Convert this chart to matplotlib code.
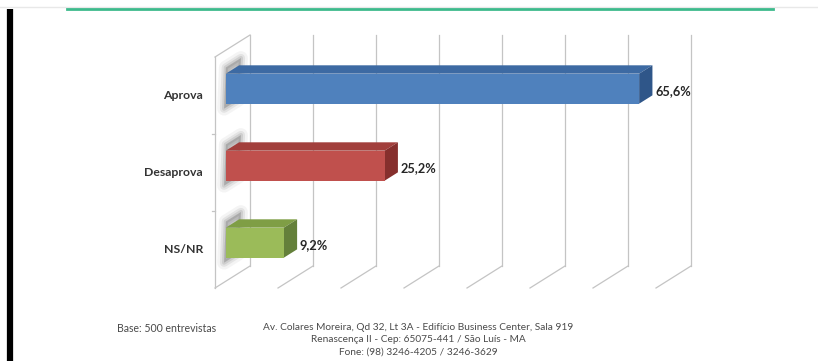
import matplotlib
matplotlib.use("Agg")
import matplotlib.pyplot as plt
from matplotlib.patches import Polygon
from matplotlib.lines import Line2D
from matplotlib.transforms import IdentityTransform

# survey results
categorias = ["Aprova", "Desaprova", "NS/NR"]
valores = [65.6, 25.2, 9.2]
rotulos = ["65,6%", "25,2%", "9,2%"]
cores_frente = ["#4f81bd", "#c0504d", "#9bbb59"]
cores_topo = ["#3d6aa3", "#a23f3c", "#7f9e45"]
cores_lado = ["#2f5689", "#862f2d", "#64803a"]
grade = [0, 10, 20, 30, 40, 50, 60, 70]

rodape_base = "Base: 500 entrevistas"
endereco = ["Av. Colares Moreira, Qd 32, Lt 3A - Edifício Business Center, Sala 919",
            "Renascença II - Cep: 65075-441 / São Luís - MA",
            "Fone: (98) 3246-4205 / 3246-3629"]

plt.rcParams["font.family"] = ["Lato", "DejaVu Sans"]

W, H = 818, 361
fig = plt.figure(figsize=(W / 100, H / 100), dpi=100)
fig.patch.set_facecolor("white")

# front plane of the 3d box
ax = fig.add_axes([215 / W, 1 - 288 / H, 441 / W, 231 / H])
ax.set_xlim(0, 70)
ax.set_ylim(2.5, -0.5)
ax.axis("off")

DX, DY = 35, 22          # depth of the box in pixels
D1, D2 = 0.31, 0.69      # bar depth range
ALT = 0.39               # bar height (category units)

def proj(v, c, d):
    x, y = ax.transData.transform((v, c))
    return (x + DX * d, y + DY * d)

def poly(pts, z=5, **kw):
    p = Polygon(pts, closed=True, transform=IdentityTransform(), clip_on=False,
                zorder=z, **kw)
    fig.add_artist(p)

def linha(p0, p1, z=1, **kw):
    fig.add_artist(Line2D([p0[0], p1[0]], [p0[1], p1[1]],
                          transform=IdentityTransform(), zorder=z, **kw))

cinza = "#c4c4c4"
# back wall gridlines and floor
for g in grade:
    linha(proj(g, -0.5, 1), proj(g, 2.5, 1), color=cinza, lw=0.9)
    linha(proj(g, 2.5, 1), proj(g, 2.5, 0), color=cinza, lw=0.9)
# left wall edges
linha(proj(0, -0.5, 0), proj(0, 2.5, 0), color=cinza, lw=0.9)
linha(proj(0, -0.5, 0), proj(0, -0.5, 1), color=cinza, lw=0.9)
for c in [0.5, 1.5]:
    p = proj(0, c, 0)
    linha((p[0] - 3, p[1]), p, color=cinza, lw=0.9)

# bars
for i, (v, cf, ct, cl) in enumerate(zip(valores, cores_frente, cores_topo, cores_lado)):
    top, bot = i - ALT / 2, i + ALT / 2
    # soft shadow at the left end of the bar
    sombra = [proj(0, top - 0.08, D2 + 0.05), proj(0, top - 0.08, D1),
              proj(0, bot + 0.05, D1 - 0.05), proj(0, bot + 0.05, D2)]
    for lw, a in [(10, 0.06), (6, 0.1), (3, 0.14)]:
        poly(sombra, z=3, facecolor="#505050", alpha=a, edgecolor="#505050", lw=lw,
             joinstyle="round")
    poly([proj(0, top, D1), proj(v, top, D1), proj(v, top, D2), proj(0, top, D2)],
         facecolor=ct, edgecolor="none")
    poly([proj(v, top, D1), proj(v, bot, D1), proj(v, bot, D2), proj(v, top, D2)],
         facecolor=cl, edgecolor="none")
    poly([proj(0, top, D1), proj(v, top, D1), proj(v, bot, D1), proj(0, bot, D1)],
         facecolor=cf, edgecolor="none")

    # value label
    lx, ly = proj(v, i, D1)
    fig.text((lx + 16) / W, (ly - 2) / H, rotulos[i], fontsize=9.2, fontweight="bold",
             color="#262626", va="center", ha="left")
    # category label
    cx, cy = proj(0, i, 0)
    fig.text((cx - 12) / W, cy / H, categorias[i], fontsize=8.8, fontweight="bold",
             color="#333333", va="center", ha="right")

# frame decorations
fig.add_artist(Line2D([0, 1], [1 - 7 / H, 1 - 7 / H], color="#e8e8e8", lw=1))
fig.add_artist(Line2D([67 / W, 773 / W], [1 - 9 / H, 1 - 9 / H], color="#3dba8c", lw=2))
fig.add_artist(Line2D([10 / W, 10 / W], [0, 1 - 9 / H], color="black", lw=4.5,
                      solid_capstyle="butt"))

# footer
fig.text(117 / W, 1 - 328 / H, rodape_base, fontsize=7.6, color="#4a4a4a",
         ha="left", va="center")
for k, t in enumerate(endereco):
    fig.text(418 / W, 1 - (327 + 12.5 * k) / H, t, fontsize=7.3, color="#4a4a4a",
             ha="center", va="center")

fig.savefig("out.png", dpi=100, facecolor="white")
